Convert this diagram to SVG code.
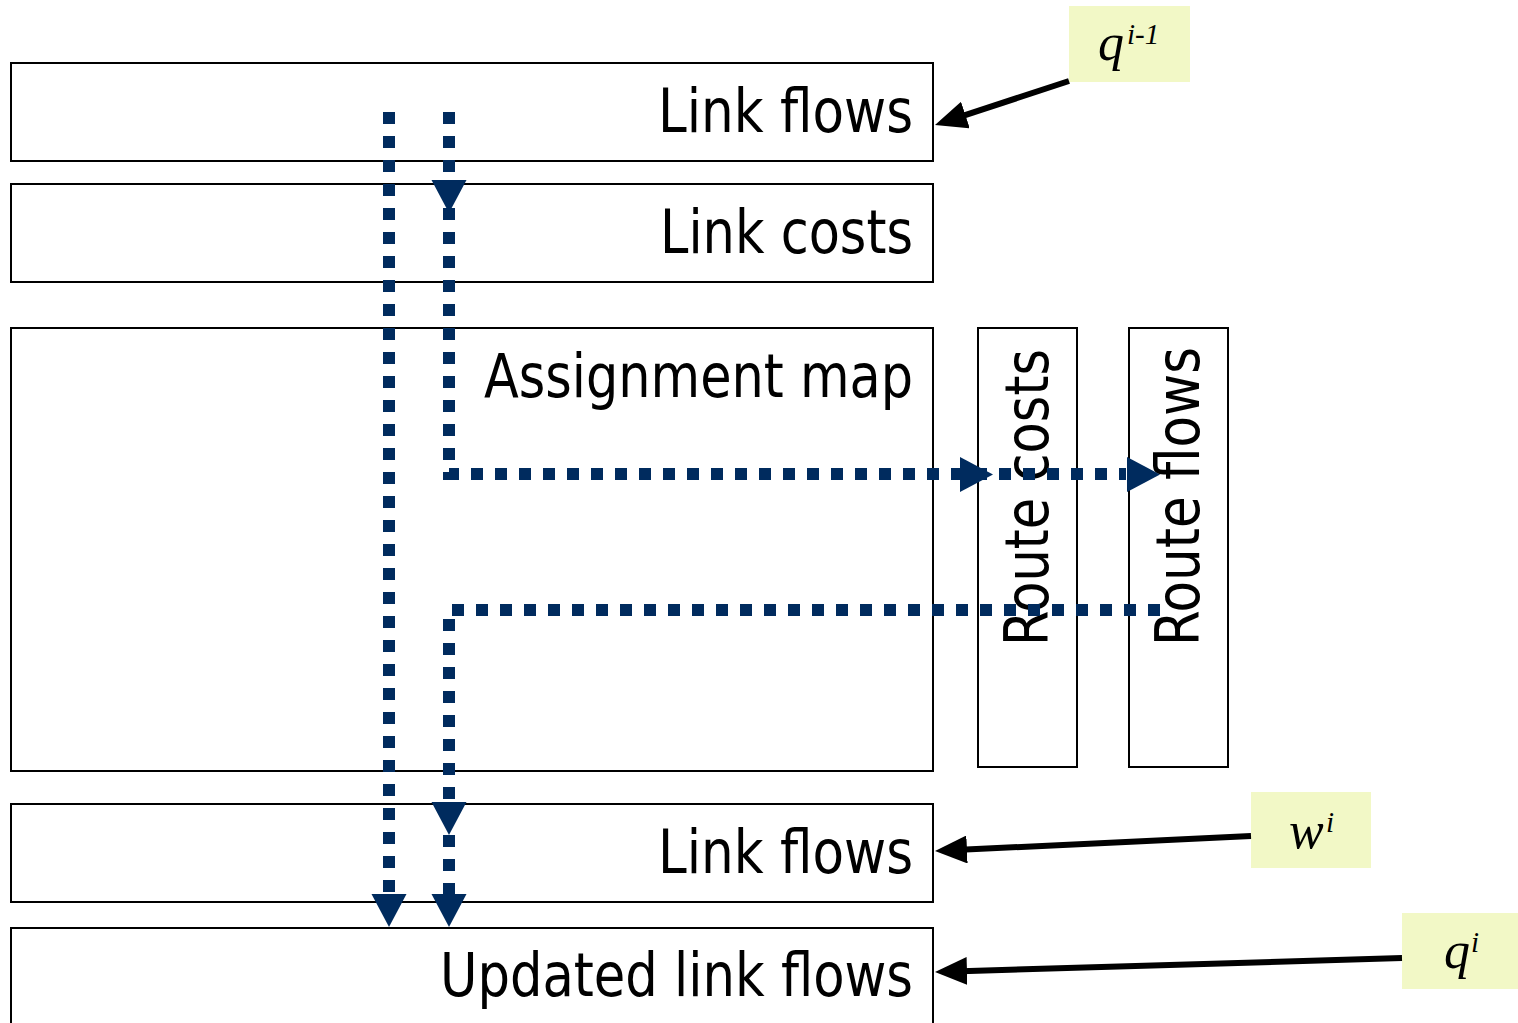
<svg xmlns="http://www.w3.org/2000/svg" xmlns:xlink="http://www.w3.org/1999/xlink" width="1518" height="1023" viewBox="0 0 1518 1023">
  <style>
    .box { fill: #ffffff; stroke: #000000; stroke-width: 2; }
    .lbl { font-family: "DejaVu Sans", "Liberation Sans", sans-serif; font-size: 60px; fill: #000000; }
    .note { fill: #f2f8c6; }
    .math { font-family: "Liberation Serif", "Times New Roman", serif; font-style: italic; font-size: 52px; fill: #000000; }
    .sup { font-size: 29px; }
    .flow { fill: none; stroke: #002b5e; stroke-width: 12; stroke-dasharray: 12 12; }
    .head { fill: #002b5e; }
    .feed { fill: none; stroke: #000000; stroke-width: 6; marker-end: url(#blackHead); }
  </style>
  <defs>
    <!-- solid black arrowhead for the input arrows -->
    <marker id="blackHead" markerUnits="userSpaceOnUse" viewBox="0 0 32 28" refX="22" refY="14" markerWidth="32" markerHeight="28" orient="auto">
      <path d="M0,0 L32,14 L0,28 z" fill="#000000"/>
    </marker>
    <!-- navy arrowhead, tip at origin, pointing down -->
    <path id="navyDown" class="head" d="M-17.5,-33 L17.5,-33 L0,0 z"/>
  </defs>

  <!-- stacked data blocks -->
  <g id="link-flows-prev">
    <rect class="box" x="11" y="63" width="922" height="98"/>
    <text class="lbl" x="913" y="132" text-anchor="end" textLength="255" lengthAdjust="spacingAndGlyphs">Link flows</text>
  </g>
  <g id="link-costs">
    <rect class="box" x="11" y="184" width="922" height="98"/>
    <text class="lbl" x="913" y="253" text-anchor="end" textLength="253" lengthAdjust="spacingAndGlyphs">Link costs</text>
  </g>
  <g id="assignment-map">
    <rect class="box" x="11" y="328" width="922" height="443"/>
    <text class="lbl" x="913" y="397" text-anchor="end" textLength="429" lengthAdjust="spacingAndGlyphs">Assignment map</text>
  </g>
  <g id="route-costs">
    <rect class="box" x="978" y="328" width="99" height="439"/>
    <text class="lbl" transform="translate(1048,646) rotate(-90)" x="0" y="0" textLength="297" lengthAdjust="spacingAndGlyphs">Route costs</text>
  </g>
  <g id="route-flows">
    <rect class="box" x="1129" y="328" width="99" height="439"/>
    <text class="lbl" transform="translate(1199,646) rotate(-90)" x="0" y="0" textLength="299" lengthAdjust="spacingAndGlyphs">Route flows</text>
  </g>
  <g id="link-flows-aux">
    <rect class="box" x="11" y="804" width="922" height="98"/>
    <text class="lbl" x="913" y="873" text-anchor="end" textLength="255" lengthAdjust="spacingAndGlyphs">Link flows</text>
  </g>
  <g id="updated-link-flows">
    <rect class="box" x="11" y="928" width="922" height="110"/>
    <text class="lbl" x="913" y="996" text-anchor="end" textLength="473" lengthAdjust="spacingAndGlyphs">Updated link flows</text>
  </g>

  <!-- iteration inputs -->
  <g id="q-prev">
    <rect class="note" x="1069" y="6" width="121" height="76"/>
    <text class="math" x="1098" y="60">q<tspan class="sup" x="1127" y="44">i-1</tspan></text>
  </g>
  <g id="w-i">
    <rect class="note" x="1251" y="792" width="120" height="76"/>
    <text class="math" x="1289" y="848">w<tspan class="sup" x="1326" y="832">i</tspan></text>
  </g>
  <g id="q-i">
    <rect class="note" x="1402" y="913" width="116" height="76"/>
    <text class="math" x="1444" y="968">q<tspan class="sup" x="1471" y="952">i</tspan></text>
  </g>

  <!-- connectors -->
  <g id="connectors">
    <path class="feed" d="M1069,81 L944.5,121.9"/>
    <path class="feed" d="M1251,836 L945,850.5"/>
    <path class="feed" d="M1402,958 L945,971.7"/>

    <path class="flow" d="M389,112 V895"/>
    <path class="flow" d="M449,112 V474 H1126"/>
    <path class="flow" d="M1160,610 H449 V895"/>

    <use xlink:href="#navyDown" transform="translate(449,213)"/>
    <use xlink:href="#navyDown" transform="translate(993,474.5) rotate(-90)"/>
    <use xlink:href="#navyDown" transform="translate(1160,474.5) rotate(-90)"/>
    <use xlink:href="#navyDown" transform="translate(449,835)"/>
    <use xlink:href="#navyDown" transform="translate(389,927)"/>
    <use xlink:href="#navyDown" transform="translate(449,927)"/>
  </g>
</svg>
